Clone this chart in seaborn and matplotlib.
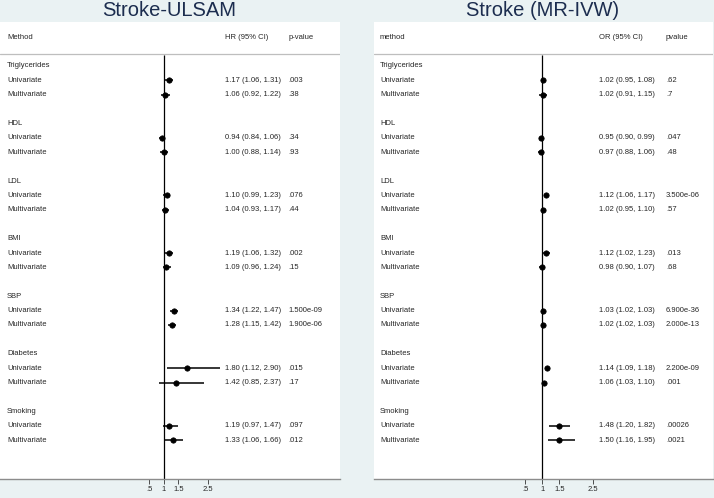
import pandas as pd
import numpy as np
import matplotlib
matplotlib.use("Agg")
import matplotlib.pyplot as plt
import seaborn as sns

groups = ["Triglycerides", "HDL", "LDL", "BMI", "SBP", "Diabetes", "Smoking"]
methods = ["Univariate", "Multivariate"]

# Stroke-ULSAM (HR)
ulsam_est = [1.17, 1.06, 0.94, 1.00, 1.10, 1.04, 1.19, 1.09, 1.34, 1.28, 1.80, 1.42, 1.19, 1.33]
ulsam_lo = [1.06, 0.92, 0.84, 0.88, 0.99, 0.93, 1.06, 0.96, 1.22, 1.15, 1.12, 0.85, 0.97, 1.06]
ulsam_hi = [1.31, 1.22, 1.06, 1.14, 1.23, 1.17, 1.32, 1.24, 1.47, 1.42, 2.90, 2.37, 1.47, 1.66]
ulsam_p = [".003", ".38", ".34", ".93", ".076", ".44", ".002", ".15",
           "1.500e-09", "1.900e-06", ".015", ".17", ".097", ".012"]

# Stroke (MR-IVW) (OR)
mr_est = [1.02, 1.02, 0.95, 0.97, 1.12, 1.02, 1.12, 0.98, 1.03, 1.02, 1.14, 1.06, 1.48, 1.50]
mr_lo = [0.95, 0.91, 0.90, 0.88, 1.06, 0.95, 1.02, 0.90, 1.02, 1.02, 1.09, 1.03, 1.20, 1.16]
mr_hi = [1.08, 1.15, 0.99, 1.06, 1.17, 1.10, 1.23, 1.07, 1.03, 1.03, 1.18, 1.10, 1.82, 1.95]
mr_p = [".62", ".7", ".047", ".48", "3.500e-06", ".57", ".013", ".68",
        "6.900e-36", "2.000e-13", "2.200e-09", ".001", ".00026", ".0021"]

tick_vals = [0.5, 1, 1.5, 2.5]
tick_labels = [".5", "1", "1.5", "2.5"]

sns.set_style("white")
plt.rcParams['font.family'] = ['Liberation Sans', 'DejaVu Sans']

BG = "#EAF2F3"
NAVY = "#1C2D4F"
FS = 5.5


def make_df(est, lo, hi, p):
    rows = []
    k = 0
    for g_i, g in enumerate(groups):
        for m_i, m in enumerate(methods):
            rows.append({"group": g, "method": m, "row": g_i * 4 + 1 + m_i,
                         "est": est[k], "lo": lo[k], "hi": hi[k], "p": p[k]})
            k += 1
    return pd.DataFrame(rows)


def forest(ax, df, xlim, head, col_x):
    ax.set_facecolor("white")
    ax.set_xlim(*xlim)
    ax.set_ylim(28.7, -3.05)
    tr = ax.get_yaxis_transform()
    # header
    for cx, h in zip(col_x, head):
        ax.text(cx, -2, h, transform=tr, fontsize=FS, va="center")
    ax.axhline(-0.83, color="#BEBEBE", lw=0.9)
    # null line
    ax.vlines(1, -0.76, 28.7, color="black", lw=0.9)
    # group labels
    for g_i, g in enumerate(groups):
        ax.text(col_x[0], g_i * 4, g, transform=tr, fontsize=FS, va="center")
    for _, r in df.iterrows():
        ax.text(col_x[0], r["row"], r["method"], transform=tr, fontsize=FS, va="center")
        ax.text(col_x[1], r["row"], "%.2f (%.2f, %.2f)" % (r["est"], r["lo"], r["hi"]),
                transform=tr, fontsize=FS, va="center")
        ax.text(col_x[2], r["row"], r["p"], transform=tr, fontsize=FS, va="center")
    ax.hlines(df["row"], df["lo"], df["hi"], color="black", lw=1.1)
    sns.scatterplot(data=df, x="est", y="row", ax=ax, color="black", marker="o",
                    s=15, edgecolor="black", linewidth=0.5, zorder=3)
    ax.set_xlabel("")
    ax.set_ylabel("")
    ax.set_yticks([])
    ax.set_xticks(tick_vals)
    ax.set_xticklabels(tick_labels)
    ax.tick_params(axis="x", bottom=True, length=3.5, width=0.6, color="#333333",
                   labelsize=FS, pad=1.5)
    for s in ["top", "left", "right"]:
        ax.spines[s].set_visible(False)
    ax.spines["bottom"].set_color("#8C8C8C")
    ax.spines["bottom"].set_linewidth(1.0)


fig = plt.figure(figsize=(7.14, 4.98), dpi=100, facecolor=BG)
ax1 = fig.add_axes([0.0, 19 / 498, 340 / 714, 457 / 498])
ax2 = fig.add_axes([374 / 714, 19 / 498, 339 / 714, 457 / 498])

df1 = make_df(ulsam_est, ulsam_lo, ulsam_hi, ulsam_p)
df2 = make_df(mr_est, mr_lo, mr_hi, mr_p)

forest(ax1, df1, (-4.568, 6.997), ["Method", "HR (95% CI)", "p-value"], [0.0206, 0.663, 0.848])
forest(ax2, df2, (-3.968, 6.033), ["method", "OR (95% CI)", "pvalue"], [0.0177, 0.664, 0.861])

fig.text(169 / 714, 1 - 11 / 498, "Stroke-ULSAM", fontsize=14.5, color=NAVY, ha="center", va="center")
fig.text(543 / 714, 1 - 11 / 498, "Stroke (MR-IVW)", fontsize=14.5, color=NAVY, ha="center", va="center")

fig.savefig("out.png", dpi=100, facecolor=BG)
